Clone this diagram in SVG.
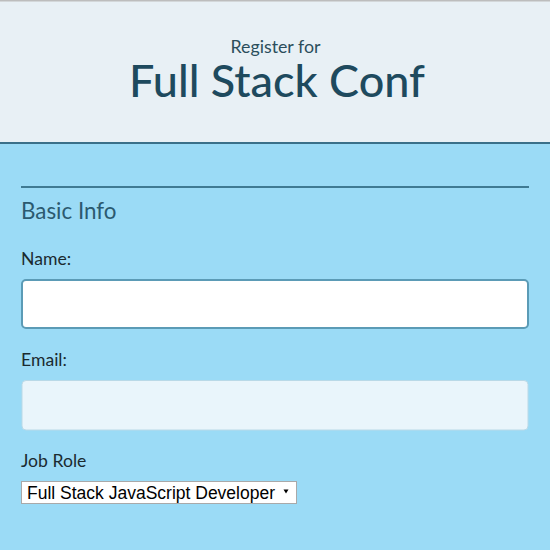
<svg xmlns="http://www.w3.org/2000/svg" width="550" height="550" viewBox="0 0 550 550">
<style>
.lbl{font-family:Lato,"Open Sans",sans-serif;font-size:17.6px;fill:#1a2a30}
</style>
<rect x="0" y="0" width="550" height="550" fill="#9bdbf6"/>
<g id="header">
<rect x="0" y="0" width="550" height="143" fill="#e8f0f5"/>
<rect x="0" y="0" width="550" height="1.5" fill="#bdbdbd"/>
<rect x="0" y="142" width="550" height="2" fill="#3a7089"/>
<text x="275.5" y="53" text-anchor="middle" font-family="Lato,'Open Sans',sans-serif" font-size="17.8" fill="#2b4e5c">Register for</text>
<text x="277" y="96.5" text-anchor="middle" font-family="Lato,'Open Sans',sans-serif" font-size="45" font-weight="500" fill="#1e4a5e">Full Stack Conf</text>
</g>
<g id="basic-info">
<rect x="21" y="186" width="508" height="2" fill="#3f7a93"/>
<text x="21" y="218.5" font-family="Lato,'Open Sans',sans-serif" font-size="22.4" fill="#2b5a70">Basic Info</text>
</g>
<g id="name">
<text class="lbl" x="21" y="265">Name:</text>
<rect x="22" y="280" width="506" height="48" rx="4" fill="#ffffff" stroke="#5b9bb6" stroke-width="2"/>
</g>
<g id="email">
<text class="lbl" x="21" y="366">Email:</text>
<rect x="22" y="380.5" width="506" height="49.5" rx="4" fill="#e9f5fb" stroke="#b9d9e7" stroke-width="1"/>
</g>
<g id="job-role">
<text class="lbl" x="21" y="467">Job Role</text>
<rect x="21.5" y="481.5" width="275" height="22" fill="#ffffff" stroke="#a9a9a9" stroke-width="1"/>
<text x="27" y="498.5" font-family="'Liberation Sans',Arial,sans-serif" font-size="17.5" fill="#000">Full Stack JavaScript Developer</text>
<path d="M283.5 489.5 L288.5 489.5 L286 493.5 Z" fill="#000"/>
</g>
<g id="connectors"/>
</svg>
